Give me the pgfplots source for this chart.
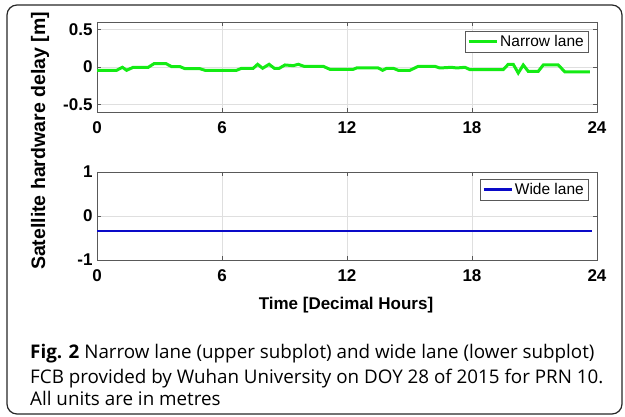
\documentclass[border=0pt]{standalone}
\usepackage{pgfplots}
\pgfplotsset{compat=1.18}
\usepackage{fontspec}
\setmainfont{Liberation Sans}
\newfontfamily\capfont{Open Sans}
\definecolor{mgreen}{RGB}{20,235,20}
\definecolor{mblue}{RGB}{10,10,200}
\begin{document}
\begin{tikzpicture}
\useasboundingbox (0pt,0pt) rectangle (625pt,416pt);
\draw[line width=1.2pt, black!85, rounded corners=10pt] (7pt,2pt) rectangle (622pt,411pt);
\pgfplotsset{
  every axis/.append style={
    scale only axis, width=500pt, xmin=0, xmax=24,
    xtick={0,6,12,18,24}, xticklabels={0,6,12,18,24},
    /pgf/number format/assume math mode=true,
    tick label style={font=\fontsize{17}{17}\selectfont\bfseries},
    xticklabel style={yshift=-6pt},
    yticklabel style={xshift=-1pt},
    grid=major, major grid style={gray!25},
    axis line style={gray!70!black}, tick style={gray!70!black},
    tick align=inside, major tick length=4pt,
    legend cell align=left,
    legend image code/.code={\draw[#1] (0pt,0pt) -- (28pt,0pt);},
    legend style={draw=gray!70!black, font=\fontsize{15.5}{16}\selectfont, inner xsep=2pt, inner ysep=2pt, anchor=north east},
  }
}
\begin{axis}[at={(97pt,304pt)}, anchor=south west, height=90pt,
  ymin=-0.6, ymax=0.6, ytick={-0.5,0,0.5}, yticklabels={-0.5,0,0.5},
  legend style={at={(1,1)}, xshift=-9pt, yshift=-9pt}]
\addplot[mgreen, line width=3pt] coordinates {
(0,-0.044) (0.94,-0.044) (1.22,-0.004) (1.42,-0.044) (1.74,-0.004) (2.46,-0.004) (2.74,0.045) (3.31,0.045) (3.58,0.005) (3.98,0.005) (4.22,-0.022) (4.94,-0.022) (5.18,-0.044) (6.70,-0.044) (6.94,-0.017) (7.50,-0.017) (7.71,0.036) (7.95,-0.017) (8.26,0.036) (8.51,-0.017) (8.75,-0.017) (9.02,0.027) (9.42,0.018) (9.66,0.036) (9.94,0.009) (10.86,0.009) (11.18,-0.031) (12.30,-0.031) (12.46,-0.013) (13.50,-0.013) (13.71,-0.044) (13.90,-0.017) (14.22,-0.017) (14.46,-0.044) (15.02,-0.044) (15.42,0.009) (16.22,0.009) (16.46,-0.013) (17.02,-0.004) (17.26,-0.013) (17.66,-0.004) (17.90,-0.035) (19.50,-0.035) (19.74,0.036) (19.98,0.036) (20.22,-0.08) (20.46,0.027) (20.70,-0.058) (21.18,-0.058) (21.42,0.027) (22.14,0.027) (22.46,-0.066) (23.66,-0.066)
};
\addlegendentry{Narrow lane}
\end{axis}
\begin{axis}[at={(97pt,156pt)}, anchor=south west, height=88pt,
  ymin=-1, ymax=1, ytick={-1,0,1}, yticklabels={-1,0,1},
  legend style={at={(1,1)}, xshift=-9pt, yshift=-7pt}]
\addplot[mblue, line width=2.6pt] coordinates {(0,-0.34) (23.75,-0.34)};
\addlegendentry{Wide lane}
\end{axis}
\node[font=\fontsize{17}{17}\selectfont\bfseries] at (346pt,111pt) {Time [Decimal Hours]};
\node[rotate=90, font=\fontsize{19.5}{19.5}\selectfont\bfseries] at (40pt,275pt) {Satellite hardware delay [m]};
\node[anchor=base west, inner sep=0pt, font=\capfont\fontsize{18.8}{18}\selectfont] at (30pt,58pt) {\textbf{Fig. 2} Narrow lane (upper subplot) and wide lane (lower subplot)};
\node[anchor=base west, inner sep=0pt, font=\capfont\fontsize{18.8}{18}\selectfont] at (30pt,33pt) {FCB provided by Wuhan University on DOY 28 of 2015 for PRN 10.};
\node[anchor=base west, inner sep=0pt, font=\capfont\fontsize{18.8}{18}\selectfont] at (30pt,11pt) {All units are in metres};
\end{tikzpicture}
\end{document}
